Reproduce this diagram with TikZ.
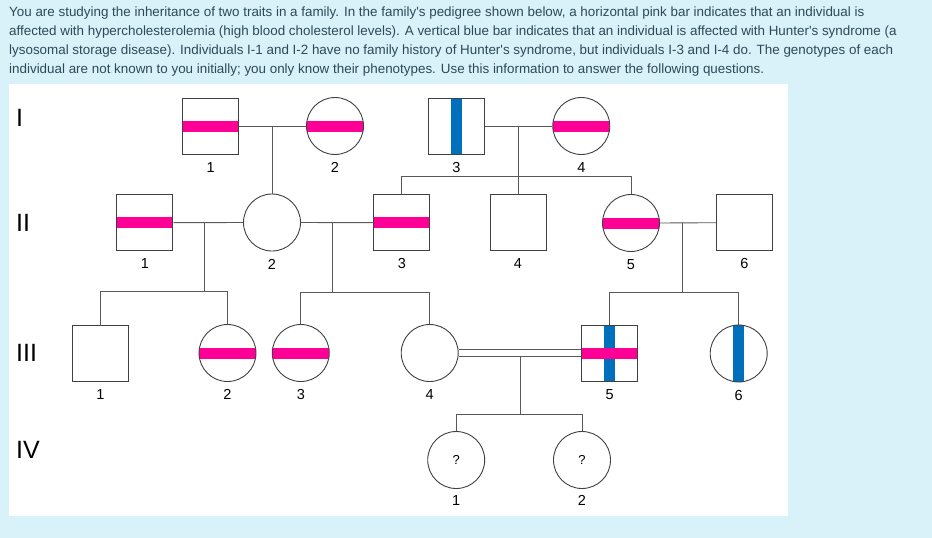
\documentclass[tikz,border=0pt]{standalone}
\usepackage{fontspec}
\setmainfont{Liberation Sans}
\usetikzlibrary{calc}
\definecolor{bgblue}{RGB}{217,241,248}
\definecolor{txtgray}{RGB}{44,74,90}
\definecolor{hcpink}{RGB}{255,0,150}
\definecolor{hsblue}{RGB}{0,112,188}
\tikzset{
  pline/.style={draw=black!65,line width=0.9pt},
  indiv/.style={draw=black!75,line width=0.9pt,fill=white,inner sep=0pt},
  male/.style={indiv,rectangle,minimum size=56pt},
  female/.style={indiv,circle,minimum size=57pt},
  hc/.style={path picture={
    \fill[hcpink] ([yshift=-5.5pt]path picture bounding box.west) rectangle ([yshift=5.5pt]path picture bounding box.east);}},
  hs/.style={path picture={
    \fill[hsblue] ([xshift=-5.7pt]path picture bounding box.north) rectangle ([xshift=5.7pt]path picture bounding box.south);}},
  hchs/.style={path picture={
    \fill[hsblue] ([xshift=-5.7pt]path picture bounding box.north) rectangle ([xshift=5.7pt]path picture bounding box.south);
    \fill[hcpink] ([yshift=-5.5pt]path picture bounding box.west) rectangle ([yshift=5.5pt]path picture bounding box.east);}},
  every label/.style={font=\fontsize{14.5}{14.5}\selectfont,inner sep=0pt},
  txt/.style={font=\fontsize{13.4}{19}\selectfont,text=txtgray,inner sep=0pt,anchor=base west},
  gen/.style={font=\fontsize{25}{25}\selectfont,inner sep=0pt,anchor=west}
}
\begin{document}
\begin{tikzpicture}[x=1pt,y=1pt,label distance=7.5pt]
\fill[bgblue] (0,0) rectangle (932,-538);
\useasboundingbox (0,0) rectangle (932,-538);
\fill[white] (9,-84) rectangle (788,-516);
\node[txt] (t1) at (9,-16.7) {You are studying the inheritance of two traits in a family. In the family\textquotesingle s pedigree shown below, a horizontal pink bar indicates that an individual is};
\node[txt] (t2) at (9,-35.7) {affected with hypercholesterolemia (high blood cholesterol levels). A vertical blue bar indicates that an individual is affected with Hunter\textquotesingle s syndrome (a};
\node[txt] (t3) at (9,-54.7) {lysosomal storage disease). Individuals I-1 and I-2 have no family history of Hunter\textquotesingle s syndrome, but individuals I-3 and I-4 do. The genotypes of each};
\node[txt] (t4) at (9,-73.7) {individual are not known to you initially; you only know their phenotypes. Use this information to answer the following questions.};
\node[gen] (gI) at (16,-118.3) {I};
\node[gen] (gII) at (16,-223.3) {II};
\node[gen] (gIII) at (16,-352.5) {III};
\node[gen] (gIV) at (16,-449.5) {IV};
\node[male,hc,label=below:1] (I1) at (210.7,-126) {};
\node[female,hc,label=below:2] (I2) at (335,-126) {};
\node[male,hs,label=below:3] (I3) at (456.3,-126) {};
\node[female,hc,label=below:4] (I4) at (581.3,-126) {};
\node[male,hc,label=below:1] (II1) at (144.8,-222.7) {};
\node[female,label=below:2] (II2) at (272,-222.5) {};
\node[male,hc,label=below:3] (II3) at (401.8,-222.7) {};
\node[male,label=below:4] (II4) at (518,-222.7) {};
\node[female,hc,label=below:5] (II5) at (631,-223) {};
\node[male,label=below:6] (II6) at (744.5,-222.7) {};
\node[male,label=below:1] (III1) at (100.3,-353) {};
\node[female,hc,label=below:2] (III2) at (227.5,-353) {};
\node[female,hc,label=below:3] (III3) at (300.8,-353) {};
\node[female,label=below:4] (III4) at (429.7,-353) {};
\node[male,hchs,label=below:5] (III5) at (609.7,-353.5) {};
\node[female,hs,label=below:6] (III6) at (738.7,-353.5) {};
\node[female,font=\fontsize{13}{13}\selectfont,label={[label distance=6pt]below:1}] (IV1) at (456.2,-460) {?};
\node[female,font=\fontsize{13}{13}\selectfont,label={[label distance=6pt]below:2}] (IV2) at (582,-460) {?};
\coordinate (sibII) at (0,-176.7);
\coordinate (sibIIIa) at (0,-291);
\coordinate (sibIIIb) at (0,-292.7);
\coordinate (sibIV) at (0,-414.3);
\draw[pline] (I1.east) -- (I2.west);
\coordinate (mI12) at ($(I1.east)!0.5!(I2.west)$);
\draw[pline] (mI12) -- (mI12 |- II2.north);
\draw[pline] (I3.east) -- (I4.west);
\coordinate (mI34) at ($(I3.east)!0.5!(I4.west)$);
\draw[pline] (mI34) -- (mI34 |- II4.north);
\draw[pline] (II3.north) -- (II3 |- sibII) -- (II5 |- sibII) -- (II5.north);
\draw[pline] (II1.east) -- (II2.west);
\coordinate (mII12) at ($(II1.east)!0.45!(II2.west)$);
\draw[pline] (mII12) -- (mII12 |- sibIIIa);
\draw[pline] (III1.north) -- (III1 |- sibIIIa) -- (III2 |- sibIIIa) -- (III2.north);
\draw[pline] (II2.east) -- (II3.west);
\coordinate (mII23) at ($(II2.east)!0.44!(II3.west)$);
\draw[pline] (mII23) -- (mII23 |- sibIIIb);
\draw[pline] (III3.north) -- (III3 |- sibIIIb) -- (III4 |- sibIIIb) -- (III4.north);
\draw[pline] (II5.east) -- (II6.west);
\coordinate (mII56) at ($(II5.east)!0.4!(II6.west)$);
\draw[pline] (mII56) -- (mII56 |- sibIIIb);
\draw[pline] (III5.north) -- (III5 |- sibIIIb) -- (III6 |- sibIIIb) -- (III6.north);
\draw[pline,double=white,double distance=6.7pt] (III4.east) -- (III4.east -| III5.west);
\coordinate (mIII45) at ($(III4.east)!0.5!(III5.west)$);
\draw[pline] ([yshift=-3.8pt]mIII45) -- (mIII45 |- sibIV);
\draw[pline] (IV1.north) -- (IV1 |- sibIV) -- (IV2 |- sibIV) -- (IV2.north);
\end{tikzpicture}
\end{document}
